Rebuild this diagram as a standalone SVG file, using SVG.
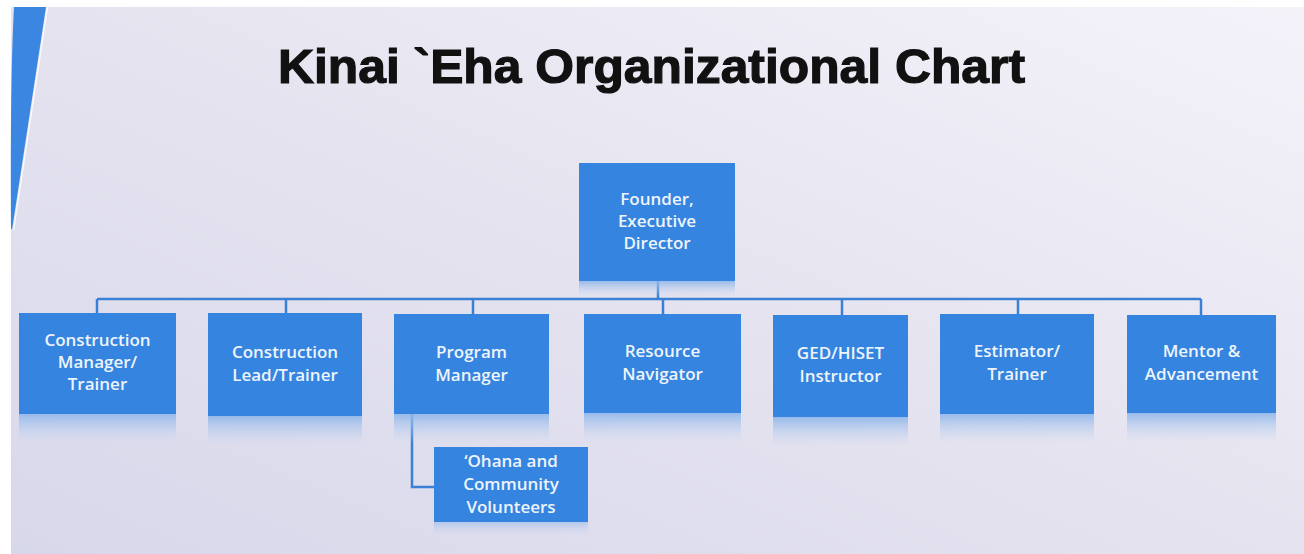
<svg xmlns="http://www.w3.org/2000/svg" width="1304" height="554" viewBox="0 0 1304 554">
  <defs>
    <linearGradient id="bg" x1="1" y1="0" x2="0" y2="1">
      <stop offset="0" stop-color="#f4f2f9"/>
      <stop offset="0.5" stop-color="#e5e3ef"/>
      <stop offset="1" stop-color="#d8d8eb"/>
    </linearGradient>
    <linearGradient id="refl" x1="0" y1="0" x2="0" y2="1">
      <stop offset="0" stop-color="#8fb6ea" stop-opacity="0.9"/>
      <stop offset="1" stop-color="#c9d8f2" stop-opacity="0"/>
    </linearGradient>
    <style>
      .box { fill: #3584df; }
      .refl { fill: url(#refl); }
      .lbl { font-family: "Open Sans", "Noto Sans", sans-serif; font-weight: 600; font-size: 17px; fill: #eef4fc; text-anchor: middle; }
      .conn { stroke: #3a80d4; stroke-width: 2.5; fill: none; }
      .title { font-family: "Liberation Sans", Arial, sans-serif; font-weight: bold; font-size: 49px; fill: #111111; stroke: #111111; stroke-width: 1.2; }
    </style>
  </defs>

  <rect x="0" y="0" width="1304" height="554" fill="#ffffff"/>
  <rect x="11" y="7" width="1293" height="547" fill="url(#bg)"/>
  <path d="M14,7 L46,7 L12,230 L11,228 Q10,80 14,7 Z" fill="#3a86e0"/>
  <line x1="47.5" y1="7" x2="13.5" y2="230" stroke="#ffffff" stroke-width="1.5" stroke-opacity="0.8"/>

  <text class="title" x="278" y="83" textLength="747" lengthAdjust="spacingAndGlyphs">Kinai `Eha Organizational Chart</text>

  <g id="connectors">
    <line class="conn" x1="658" y1="281" x2="658" y2="299"/>
    <line class="conn" x1="97" y1="299" x2="1201" y2="299"/>
    <line class="conn" x1="97" y1="299" x2="97" y2="313"/>
    <line class="conn" x1="286" y1="299" x2="286" y2="313"/>
    <line class="conn" x1="473" y1="299" x2="473" y2="314"/>
    <line class="conn" x1="663" y1="299" x2="663" y2="314"/>
    <line class="conn" x1="842" y1="299" x2="842" y2="315"/>
    <line class="conn" x1="1018" y1="299" x2="1018" y2="314"/>
    <line class="conn" x1="1201" y1="299" x2="1201" y2="315"/>
    <polyline class="conn" points="412,414 412,487 434,487"/>
  </g>

  <g id="founder">
    <rect class="refl" x="579" y="281" width="156" height="16"/>
    <rect class="box" x="579" y="163" width="156" height="118"/>
    <text class="lbl" x="657" y="205">Founder,</text>
    <text class="lbl" x="657" y="227">Executive</text>
    <text class="lbl" x="657" y="249">Director</text>
  </g>

  <g id="construction-manager">
    <rect class="refl" x="19" y="414" width="157" height="30"/>
    <rect class="box" x="19" y="313" width="157" height="101"/>
    <text class="lbl" x="97.5" y="346">Construction</text>
    <text class="lbl" x="97.5" y="368">Manager/</text>
    <text class="lbl" x="97.5" y="390">Trainer</text>
  </g>

  <g id="construction-lead">
    <rect class="refl" x="208" y="416" width="154" height="30"/>
    <rect class="box" x="208" y="313" width="154" height="103"/>
    <text class="lbl" x="285" y="358">Construction</text>
    <text class="lbl" x="285" y="381">Lead/Trainer</text>
  </g>

  <g id="program-manager">
    <rect class="refl" x="394" y="414" width="155" height="30"/>
    <rect class="box" x="394" y="314" width="155" height="100"/>
    <text class="lbl" x="471.5" y="358">Program</text>
    <text class="lbl" x="471.5" y="381">Manager</text>
  </g>

  <g id="resource-navigator">
    <rect class="refl" x="584" y="413" width="157" height="30"/>
    <rect class="box" x="584" y="314" width="157" height="99"/>
    <text class="lbl" x="662.5" y="357">Resource</text>
    <text class="lbl" x="662.5" y="380">Navigator</text>
  </g>

  <g id="ged-instructor">
    <rect class="refl" x="773" y="417" width="135" height="30"/>
    <rect class="box" x="773" y="315" width="135" height="102"/>
    <text class="lbl" x="840.5" y="359">GED/HISET</text>
    <text class="lbl" x="840.5" y="382">Instructor</text>
  </g>

  <g id="estimator">
    <rect class="refl" x="940" y="414" width="154" height="30"/>
    <rect class="box" x="940" y="314" width="154" height="100"/>
    <text class="lbl" x="1017" y="357">Estimator/</text>
    <text class="lbl" x="1017" y="380">Trainer</text>
  </g>

  <g id="mentor">
    <rect class="refl" x="1127" y="413" width="149" height="30"/>
    <rect class="box" x="1127" y="315" width="149" height="98"/>
    <text class="lbl" x="1201.5" y="357">Mentor &amp;</text>
    <text class="lbl" x="1201.5" y="380">Advancement</text>
  </g>

  <g id="ohana-volunteers">
    <rect class="refl" x="434" y="522" width="154" height="14" opacity="0.6"/>
    <rect class="box" x="434" y="447" width="154" height="75"/>
    <text class="lbl" x="511" y="467">‘Ohana and</text>
    <text class="lbl" x="511" y="490">Community</text>
    <text class="lbl" x="511" y="513">Volunteers</text>
  </g>
</svg>
